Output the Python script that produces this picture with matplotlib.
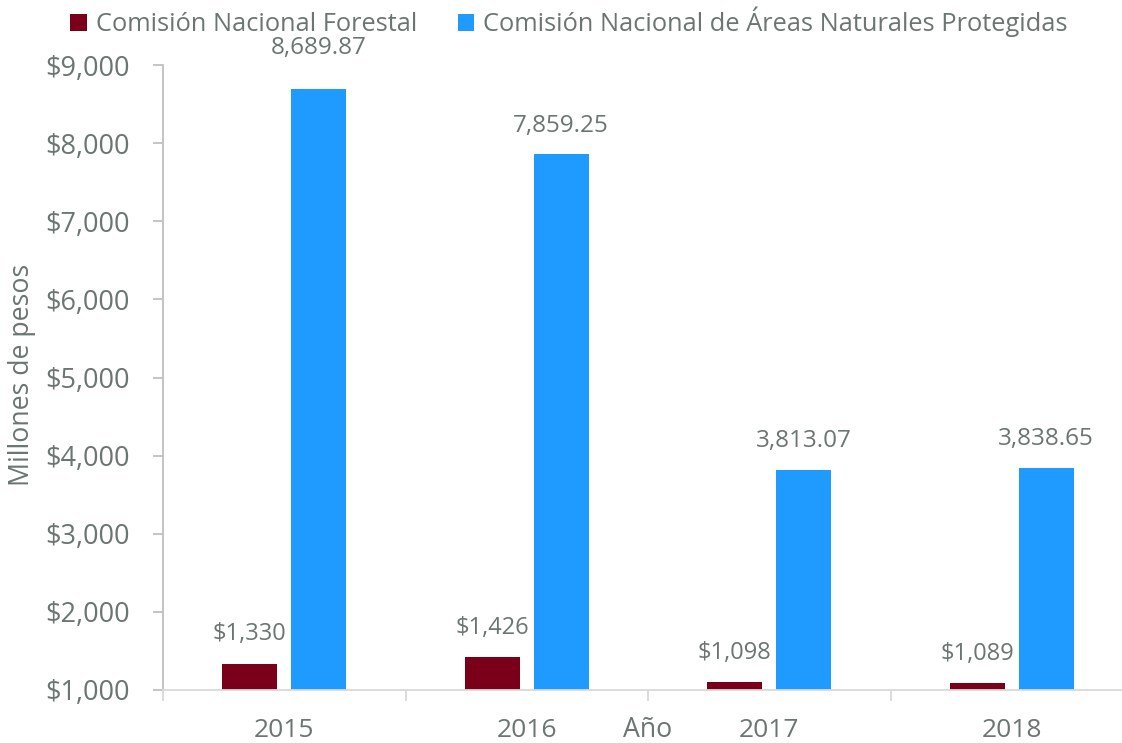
import numpy as np
import matplotlib
matplotlib.use('Agg')
import matplotlib.pyplot as plt
from matplotlib.ticker import FuncFormatter, FixedLocator

plt.rcParams['font.family'] = ['Open Sans', 'DejaVu Sans']

# Data
years = ['2015', '2016', '2017', '2018']
conafor = [1330, 1426, 1098, 1089]
conanp = [8689.87, 7859.25, 3813.07, 3838.65]
series_names = ['Comisión Nacional Forestal',
                'Comisión Nacional de Áreas Naturales Protegidas']

# label offsets above bar tops (points)
red_label_off = [22, 21, 21, 21]
blue_label_off = [30, 20, 21, 21]

RED = '#7a0019'
BLUE = '#1f9bff'
TEXT = '#6b7571'
BASE = 1000

fig = plt.figure(figsize=(11.22, 7.43), dpi=100)
ax = fig.add_axes([163 / 1122, 1 - 690 / 743, 970 / 1122, 625 / 743])

x = np.arange(len(years))
w = 0.227
off = 0.142
b1 = ax.bar(x - off, np.array(conafor) - BASE, w, bottom=BASE, color=RED, label=series_names[0])
b2 = ax.bar(x + off, np.array(conanp) - BASE, w, bottom=BASE, color=BLUE, label=series_names[1])

for xi, v, o in zip(x, conafor, red_label_off):
    ax.annotate(f'${v:,.0f}', (xi - off, v), xytext=(0, o), textcoords='offset points',
                ha='center', va='center', fontsize=17, color=TEXT)
for xi, v, o in zip(x, conanp, blue_label_off):
    ax.annotate(f'{v:,.2f}', (xi + off, v), xytext=(0, o), textcoords='offset points',
                ha='center', va='center', fontsize=17.5, color=TEXT)

ax.set_ylim(BASE, 9000)
ax.set_xlim(-0.5, 3.5)
ax.set_yticks(np.arange(1000, 9001, 1000))
ax.yaxis.set_major_formatter(FuncFormatter(lambda v, p: f'${v:,.0f}'))
ax.set_xticks(x)
ax.set_xticklabels(years)
ax.xaxis.set_minor_locator(FixedLocator([-0.5, 0.5, 1.5, 2.5, 3.5]))
ax.tick_params(axis='x', which='major', length=0, labelsize=19, labelcolor=TEXT, pad=20)
ax.tick_params(axis='x', which='minor', length=8, color='#d9d9d9', width=1.3)
ax.tick_params(axis='y', length=7, color='#bfbfbf', width=1.3, labelsize=19.5,
               labelcolor=TEXT, pad=17)

for s in ['top', 'right']:
    ax.spines[s].set_visible(False)
ax.spines['left'].set_color('#bfbfbf')
ax.spines['left'].set_linewidth(1.3)
ax.spines['bottom'].set_color('#d9d9d9')
ax.spines['bottom'].set_linewidth(1.3)

fig.text(22 / 1122, 1 - 375 / 743, 'Millones de pesos', rotation=90, ha='center',
         va='center', fontsize=19.2, color=TEXT)
fig.text(648 / 1122, 1 - 730 / 743, 'Año', ha='center', va='center', fontsize=19.2, color=TEXT)

fig.legend(handles=[b1, b2], loc='center', bbox_to_anchor=(569 / 1122, 1 - 22 / 743),
           ncol=2, frameon=False, fontsize=18.3, labelcolor=TEXT, handlelength=0.65,
           handleheight=0.65, handletextpad=0.35, columnspacing=1.6)

fig.savefig('out.png', dpi=100)
